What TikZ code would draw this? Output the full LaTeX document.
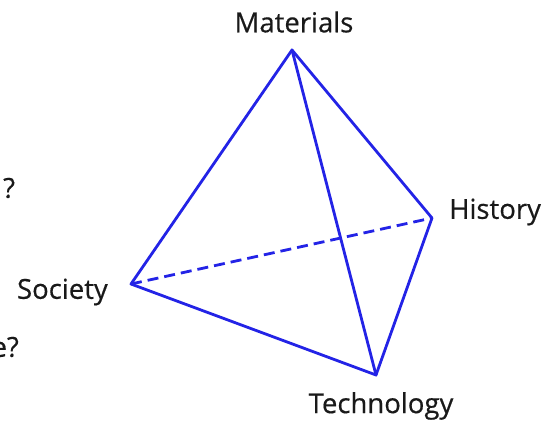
\documentclass[tikz,border=0pt]{standalone}
\usepackage{fontspec}
\newfontfamily\lblfont{Open Sans}[FakeBold=0.5,BoldFont={Open Sans}]
\definecolor{edgeblue}{RGB}{35,35,230}
\definecolor{labelgray}{RGB}{25,25,25}
\begin{document}
\begin{tikzpicture}[x=1pt,y=-1pt,
  vtx/.style={inner sep=0pt,minimum size=0pt},
  lbl/.style={font=\lblfont\fontsize{27.5}{32}\selectfont\bfseries,text=labelgray,inner sep=0pt},
  edge/.style={edgeblue,line width=2.8pt,line join=round,line cap=round},
  hidden/.style={edge,dash pattern=on 11pt off 6pt,line cap=butt}]
\useasboundingbox (0,0) rectangle (556,422);
\coordinate (M) at (292,50);
\coordinate (H) at (432,218);
\coordinate (S) at (131,284);
\coordinate (T) at (376,375);
\draw[hidden] (S) -- (H);
\draw[edge] (M) -- (S) -- (T) -- (H) -- cycle;
\draw[edge] (M) -- (T);
\node[lbl] (lm) at (294,22) {Materials};
\node[lbl,anchor=west] (lh) at (449,212) {History};
\node[lbl,anchor=east] (ls) at (108,292) {Society};
\node[lbl] (lt) at (381,406) {Technology};
\node[lbl,anchor=west] (q1) at (3,188) {?};
\node[lbl,anchor=east] (q2) at (19,347) {e?};
\end{tikzpicture}
\end{document}
